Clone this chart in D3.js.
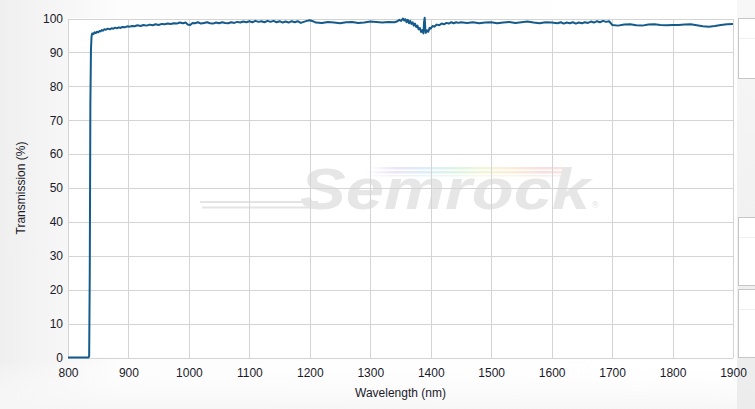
<!DOCTYPE html>
<html><head><meta charset="utf-8">
<script src="https://cdn.jsdelivr.net/npm/d3@7"></script>
<style>html,body{margin:0;padding:0;background:#fff;}svg{display:block;font-family:Arial,"Liberation Sans",sans-serif;}</style>
</head><body>
<svg id="chart" width="755" height="409"></svg>
<script>
const xTicks = [800,900,1000,1100,1200,1300,1400,1500,1600,1700,1800,1900];
const yTicks = [0,10,20,30,40,50,60,70,80,90,100];
const wavelength = [800,830,834,835,836,837,838,839,840,842,844,846,848,850,852,854,856,858,860,863,866,869,872,875,878,881,884,887,890,894,898,902,906,910,915,920,925,930,935,940,945,950,955,960,965,970,975,980,985,990,995,998,1002,1006,1010,1015,1020,1025,1030,1035,1040,1045,1050,1055,1060,1065,1070,1075,1080,1085,1090,1095,1100,1105,1110,1115,1120,1125,1130,1135,1140,1145,1150,1155,1160,1165,1170,1175,1180,1185,1190,1195,1200,1205,1210,1220,1230,1240,1250,1260,1270,1280,1290,1300,1310,1320,1330,1340,1345,1348,1351,1354,1356,1358,1360,1362,1364,1366,1368,1370,1372,1374,1376,1378,1380,1382,1384,1386,1388,1389,1390,1391,1392,1394,1396,1398,1400,1403,1406,1410,1414,1418,1422,1426,1430,1434,1438,1442,1446,1450,1460,1470,1480,1490,1500,1510,1520,1530,1540,1550,1560,1570,1580,1590,1600,1610,1615,1620,1625,1630,1635,1640,1645,1650,1655,1660,1665,1670,1675,1680,1685,1690,1695,1698,1700,1710,1720,1730,1740,1750,1760,1770,1780,1790,1800,1810,1820,1830,1840,1850,1860,1870,1880,1890,1900];
const transmission = [0,0,0,0.5,25,75,91,94.8,95.6,95.4,95.9,95.7,96.1,95.9,96.3,96.2,96.6,96.4,96.8,96.7,97.0,96.8,97.1,97.0,97.3,97.1,97.4,97.2,97.5,97.4,97.7,97.6,97.8,97.7,98.0,97.8,98.1,97.9,98.2,98.0,98.3,98.1,98.4,98.3,98.5,98.4,98.6,98.5,98.8,98.6,98.8,98.2,98.1,98.7,98.6,98.9,98.5,98.7,98.9,98.6,98.5,98.8,98.6,98.9,98.7,98.6,98.9,98.7,99.0,98.8,99.1,98.9,99.2,98.9,99.3,99.0,99.2,98.9,99.3,99.0,99.3,98.9,99.2,98.8,99.1,98.8,99.2,98.9,99.2,98.7,99.0,99.3,99.5,99.2,98.8,98.7,99.0,98.8,98.6,98.9,99.0,98.7,98.8,99.1,99.0,98.8,99.0,98.9,99.2,99.6,99.3,100.0,99.4,99.8,98.9,99.6,98.6,99.3,98.4,98.9,97.9,98.5,97.5,97.9,96.8,97.2,96.0,96.6,95.6,99.0,100.2,97.0,95.8,96.5,96.1,97.2,97.0,97.8,97.6,98.2,98.0,98.5,98.3,98.7,98.5,98.9,98.6,98.9,98.7,98.9,98.7,98.9,98.6,98.8,98.9,98.6,98.8,99.0,98.7,98.9,99.1,98.8,98.6,98.9,98.8,98.6,98.9,98.5,98.8,98.6,98.9,98.5,98.8,98.6,98.9,98.7,99.1,98.8,99.2,98.9,99.3,99.0,99.2,98.6,98.1,97.9,98.2,98.3,98.0,97.9,98.2,98.3,98.1,98.0,98.1,98.1,98.2,98.3,98.0,97.7,97.6,97.8,98.1,98.3,98.4];

const svg = d3.select("#chart");
const W = 755, H = 409;
const m = {left: 68, right: 733, top: 18.5, bottom: 357.5};

const defs = svg.append("defs");
const bg = defs.append("linearGradient").attr("id","bg").attr("x1","0").attr("x2","1").attr("y1","0").attr("y2","0");
bg.append("stop").attr("offset","0").attr("stop-color","#efefef");
bg.append("stop").attr("offset","0.16").attr("stop-color","#fdfdfd");
bg.append("stop").attr("offset","1").attr("stop-color","#ffffff");
const bgB = defs.append("linearGradient").attr("id","bgB").attr("x1","0").attr("x2","0").attr("y1","0").attr("y2","1");
bgB.append("stop").attr("offset","0").attr("stop-color","#ffffff").attr("stop-opacity","0");
bgB.append("stop").attr("offset","1").attr("stop-color","#f6f6f6").attr("stop-opacity","1");
const rb = defs.append("linearGradient").attr("id","rainbow").attr("x1","0").attr("x2","1");
[["0","#ffffff"],["0.15","#ece4f6"],["0.3","#dceefa"],["0.45","#dcf5e6"],["0.6","#f3f6d8"],["0.75","#fbecd8"],["0.9","#f9dede"],["1","#fbe4e4"]].forEach(s=>rb.append("stop").attr("offset",s[0]).attr("stop-color",s[1]));
const pg = defs.append("linearGradient").attr("id","panel").attr("x1","0").attr("x2","0").attr("y1","0").attr("y2","1");
pg.append("stop").attr("offset","0").attr("stop-color","#f7f7f7");
pg.append("stop").attr("offset","1").attr("stop-color","#ececec");

svg.append("rect").attr("width",W).attr("height",H).attr("fill","url(#bg)");
svg.append("rect").attr("y",360).attr("width",W).attr("height",49).attr("fill","url(#bgB)");

// right panel
svg.append("rect").attr("x",737).attr("y",0).attr("width",18).attr("height",H).attr("fill","url(#panel)");
[[18,78],[217,285],[289,357]].forEach(b=>{
  svg.append("rect").attr("x",738.5).attr("y",b[0]+0.5).attr("width",20).attr("height",b[1]-b[0]).attr("fill","#fff").attr("stroke","#c6c6c6");
  svg.append("line").attr("x1",739).attr("x2",755).attr("y1",b[0]+20.5).attr("y2",b[0]+20.5).attr("stroke","#f0f0f0");
});

const x = d3.scaleLinear().domain([800,1900]).range([m.left, m.right]);
const y = d3.scaleLinear().domain([0,100]).range([m.bottom, m.top]);

svg.append("rect").attr("x",m.left).attr("y",m.top).attr("width",m.right-m.left).attr("height",m.bottom-m.top).attr("fill","#fff");

// watermark
const wm = svg.append("g");
wm.append("rect").attr("x",368).attr("y",167).attr("width",195).attr("height",2.5).attr("fill","url(#rainbow)");
wm.append("rect").attr("x",365).attr("y",171).attr("width",198).attr("height",2.5).attr("fill","url(#rainbow)");
wm.append("rect").attr("x",362).attr("y",175).attr("width",200).attr("height",1.5).attr("fill","url(#rainbow)").attr("opacity",0.6);
wm.append("line").attr("x1",200).attr("x2",318).attr("y1",202).attr("y2",202).attr("stroke","#e4e4e4").attr("stroke-width",2.2);
wm.append("line").attr("x1",202).attr("x2",318).attr("y1",207.5).attr("y2",207.5).attr("stroke","#e4e4e4").attr("stroke-width",2.2);
wm.append("text").attr("x",300).attr("y",209).attr("font-size",58).attr("font-weight","bold").attr("font-style","italic")
  .attr("textLength",290).attr("lengthAdjust","spacingAndGlyphs").attr("fill","#e6e6e6").text("Semrock");
wm.append("text").attr("x",592).attr("y",208).attr("font-size",9).attr("fill","#e2e2e2").text("®");

// grid
const grid = svg.append("g").attr("stroke","#d4d4d4").attr("stroke-width",1).attr("shape-rendering","crispEdges");
xTicks.forEach(t=>grid.append("line").attr("x1",Math.round(x(t))+0.5).attr("x2",Math.round(x(t))+0.5).attr("y1",m.top).attr("y2",m.bottom));
yTicks.forEach(t=>grid.append("line").attr("x1",m.left).attr("x2",m.right).attr("y1",Math.round(y(t))+0.5).attr("y2",Math.round(y(t))+0.5));

// axes
const xAxis = svg.append("g").attr("transform",`translate(0,${m.bottom})`)
  .call(d3.axisBottom(x).tickValues(xTicks).tickSize(0).tickPadding(11).tickFormat(d3.format("d")));
xAxis.select(".domain").remove();
xAxis.selectAll("text").attr("font-size",12).attr("fill","#1a1a2a").attr("font-family","Arial, 'Liberation Sans', sans-serif");
const yAxis = svg.append("g").attr("transform",`translate(${m.left},0)`)
  .call(d3.axisLeft(y).tickValues(yTicks).tickSize(0).tickPadding(5).tickFormat(d3.format("d")));
yAxis.select(".domain").remove();
yAxis.selectAll("text").attr("font-size",12).attr("fill","#1a1a2a").attr("font-family","Arial, 'Liberation Sans', sans-serif");

svg.append("text").attr("x",(m.left+m.right)/2).attr("y",397).attr("text-anchor","middle").attr("font-size",12).attr("fill","#1a1a2a").text("Wavelength (nm)");
svg.append("text").attr("transform",`translate(25,${(m.top+m.bottom)/2}) rotate(-90)`).attr("text-anchor","middle").attr("font-size",12).attr("fill","#1a1a2a").text("Transmission (%)");

// line
const data = wavelength.map((w,i)=>[w,transmission[i]]);
svg.append("path").datum(data).attr("fill","none").attr("stroke","#145b8c").attr("stroke-width",2).attr("stroke-linejoin","round")
  .attr("d", d3.line().x(d=>x(d[0])).y(d=>y(d[1])));
</script>
</body></html>
